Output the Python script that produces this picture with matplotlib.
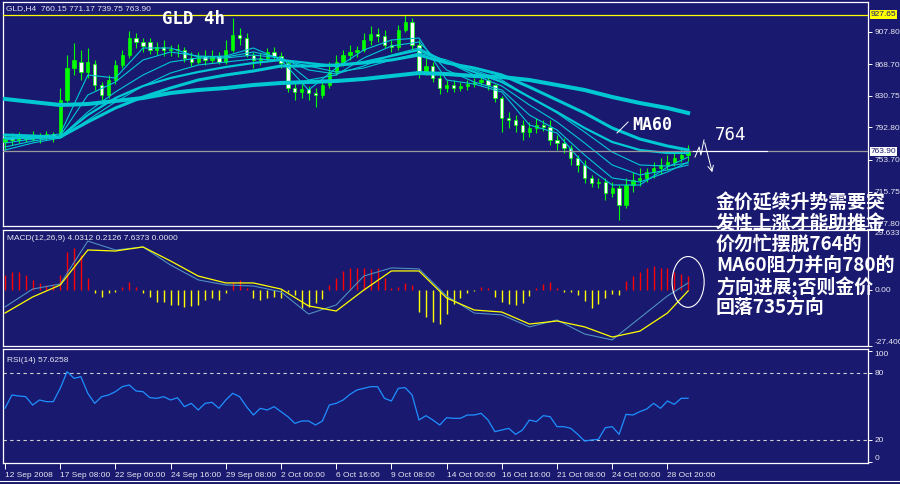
import matplotlib
matplotlib.use('Agg')
import matplotlib.pyplot as plt
import numpy as np
from matplotlib.patches import Ellipse
from matplotlib.lines import Line2D

# ---------------- data ----------------
symbol_info = 'GLD,H4  760.15 771.17 739.75 763.90'
opens = [775.2, 780.0, 777.6, 782.4, 778.8, 783.6, 781.2, 784.8, 781.2, 825.6,
         864.0, 871.2, 859.2, 868.8, 843.6, 831.6, 849.6, 867.6, 879.6, 900.0,
         895.2, 895.2, 885.6, 889.2, 885.6, 886.8, 885.6, 876.0, 871.2, 878.4,
         873.6, 878.4, 871.2, 885.6, 903.6, 900.0, 879.6, 873.6, 876.0, 883.2,
         878.4, 870.0, 840.0, 835.2, 838.8, 834.0, 831.6, 843.6, 859.2, 871.2,
         879.6, 883.2, 885.6, 897.6, 904.8, 902.4, 891.6, 889.2, 909.6, 919.2,
         891.6, 859.2, 866.4, 852.0, 840.0, 843.6, 840.0, 842.4, 844.8, 847.2,
         849.6, 843.6, 828.0, 804.0, 801.6, 795.6, 787.2, 792.0, 795.6, 793.2,
         777.6, 774.0, 768.0, 756.0, 747.6, 732.0, 726.0, 727.2, 714.0, 720.0,
         699.6, 723.6, 729.6, 732.0, 739.2, 744.0, 747.6, 751.2, 756.0, 760.15]
closes = [780.0, 777.6, 782.4, 778.8, 783.6, 781.2, 784.8, 781.2, 825.6, 864.0,
          873.6, 859.2, 871.2, 843.6, 831.6, 849.6, 867.6, 879.6, 900.0, 895.2,
          890.4, 885.6, 889.2, 885.6, 886.8, 885.6, 876.0, 871.2, 878.4, 873.6,
          878.4, 871.2, 885.6, 903.6, 900.0, 879.6, 873.6, 876.0, 883.2, 878.4,
          870.0, 840.0, 835.2, 838.8, 834.0, 831.6, 843.6, 859.2, 871.2, 879.6,
          883.2, 885.6, 897.6, 904.8, 902.4, 891.6, 889.2, 909.6, 919.2, 891.6,
          859.2, 866.4, 852.0, 840.0, 843.6, 840.0, 842.4, 844.8, 847.2, 849.6,
          843.6, 828.0, 804.0, 801.6, 795.6, 787.2, 792.0, 795.6, 793.2, 777.6,
          774.0, 768.0, 756.0, 747.6, 732.0, 726.0, 727.2, 714.0, 720.0, 699.6,
          723.6, 729.6, 732.0, 739.2, 744.0, 747.6, 751.2, 756.0, 759.6, 763.90]
highs = [783.6, 786.0, 787.2, 784.8, 788.4, 786.0, 788.4, 787.2, 840.0, 879.6,
         894.0, 885.6, 888.0, 873.6, 847.2, 855.6, 873.6, 885.6, 908.4, 906.0,
         900.0, 900.0, 895.2, 897.6, 891.6, 892.8, 889.2, 883.2, 883.2, 885.6,
         885.6, 883.2, 897.6, 924.0, 912.0, 906.0, 883.2, 882.0, 888.0, 889.2,
         883.2, 873.6, 847.2, 844.8, 842.4, 840.0, 849.6, 871.2, 879.6, 885.6,
         891.6, 890.4, 906.0, 914.4, 912.0, 909.6, 897.6, 915.6, 927.65, 924.0,
         897.6, 876.0, 871.2, 856.8, 849.6, 849.6, 847.2, 849.6, 852.0, 856.8,
         854.4, 844.8, 830.4, 811.2, 807.6, 801.6, 799.2, 804.0, 801.6, 801.6,
         783.6, 780.0, 771.6, 759.6, 753.6, 735.6, 732.0, 732.0, 727.2, 723.6,
         732.0, 739.2, 744.0, 744.0, 751.2, 756.0, 759.6, 763.2, 768.0, 771.17]
lows = [765.6, 771.6, 774.0, 775.2, 776.4, 774.0, 777.6, 775.2, 780.0, 823.2,
        855.6, 849.6, 852.0, 837.6, 825.6, 828.0, 844.8, 864.0, 876.0, 888.0,
        883.2, 880.8, 879.6, 878.4, 878.4, 877.2, 871.2, 866.4, 868.8, 867.6,
        870.0, 868.8, 868.8, 883.2, 891.6, 877.2, 864.0, 867.6, 871.2, 873.6,
        864.0, 835.2, 825.6, 828.0, 825.6, 817.2, 828.0, 840.0, 855.6, 866.4,
        873.6, 877.2, 883.2, 891.6, 895.2, 888.0, 883.2, 885.6, 907.2, 885.6,
        852.0, 855.6, 847.2, 832.8, 835.2, 835.2, 836.4, 837.6, 841.2, 843.6,
        837.6, 823.2, 787.2, 792.0, 787.2, 777.6, 781.2, 786.0, 788.4, 771.6,
        765.6, 762.0, 747.6, 739.2, 726.0, 721.2, 720.0, 705.6, 709.2, 681.6,
        696.0, 715.2, 722.4, 727.2, 732.0, 736.8, 741.6, 746.4, 751.2, 752.0]

# moving averages, sampled every 8 bars (last point = last bar)
ma_bars = list(range(0, 193, 8)) + [198]
ma_long = [826.8, 823.2, 819.6, 820.8, 824.4, 828.0, 834.0, 837.6, 840.0, 843.6,
           846.0, 847.2, 848.4, 850.8, 854.4, 858.0, 856.8, 854.4, 853.2, 849.6,
           843.6, 837.6, 829.2, 822.0, 816.0, 810.0]
ma60 = [783.6, 782.4, 781.2, 799.2, 816.0, 829.2, 840.0, 849.6, 855.6, 860.4,
        866.4, 866.4, 867.6, 870.0, 873.6, 879.6, 870.0, 864.0, 855.6, 841.2,
        825.6, 810.0, 792.0, 778.8, 770.4, 765.6]
ma_mid = [780.0, 780.0, 781.2, 807.6, 828.0, 842.4, 852.0, 859.2, 865.2, 870.0,
          873.6, 870.0, 866.4, 871.2, 878.4, 885.6, 871.2, 859.2, 847.2, 829.2,
          811.2, 792.0, 775.2, 765.6, 762.0, 762.0]
ma_t4 = [765.6, 774.0, 780.0, 801.6, 823.2, 842.4, 858.0, 867.6, 871.2, 874.8,
         873.6, 866.4, 859.2, 864.0, 873.6, 882.0, 873.6, 861.6, 849.6, 829.2,
         810.0, 787.2, 763.2, 747.6, 746.4, 750.0]
ma_t3 = [769.2, 776.4, 781.2, 811.2, 835.2, 855.6, 871.2, 876.0, 876.0, 879.6,
         876.0, 861.6, 856.8, 866.4, 879.6, 888.0, 871.2, 855.6, 842.4, 819.6,
         799.2, 774.0, 747.6, 735.6, 741.6, 747.6]
ma_t2 = [774.0, 778.8, 782.4, 831.6, 847.2, 873.6, 883.2, 878.4, 877.2, 883.2,
         876.0, 849.6, 855.6, 876.0, 890.4, 895.2, 861.6, 847.2, 837.6, 807.6,
         789.6, 759.6, 732.0, 727.2, 739.2, 751.2]
ma_t1 = [777.6, 781.2, 784.8, 855.6, 852.0, 888.0, 888.0, 877.2, 878.4, 888.0,
         873.6, 837.6, 864.0, 885.6, 897.6, 900.0, 849.6, 844.8, 835.2, 795.6,
         786.0, 747.6, 723.6, 723.6, 745.2, 757.2]

macd_hist = [7.5, 9.1, 9.1, 7.5, 5.1, 3.6, 2.6, 2.9, 7.5, 19.0,
             20.7, 17.4, 6.0, -1.3, -3.1, -1.5, -0.7, 1.8, 4.2, 1.8,
             -1.5, -3.1, -5.6, -5.6, -7.2, -7.2, -8.1, -7.6, -7.2, -4.8,
             -3.9, -4.8, -1.5, 3.9, 5.1, 1.0, -3.9, -4.8, -3.9, -3.1,
             -3.9, -0.7, -2.3, -8.9, -8.1, -6.4, -4.3, 2.6, 5.9, 9.5,
             11.1, 11.1, 11.1, 10.3, 10.8, 5.9, 1.0, 1.8, 3.4, 2.6,
             -10.5, -13.3, -15.7, -16.7, -11.8, -6.9, -3.9, -1.5, -0.3, 1.8,
             1.3, -3.1, -5.9, -6.9, -7.2, -6.4, -2.7, 1.0, 2.9, 3.9,
             1.0, -0.7, -0.7, -2.3, -5.3, -8.6, -6.9, -3.9, -2.0, -2.3,
             4.6, 7.0, 8.9, 11.1, 12.1, 11.1, 10.8, 9.1, 8.0, 7.0]
macd_line = [-8.2, 0.6, 3.1, 24.2, 19.8, 21.3, 12.4, 5.1, 2.6, 2.1,
             -0.8, -11.7, -7.2, 7.0, 11.0, 10.5, -2.8, -11.2, -12.1, -18.0,
             -14.6, -21.5, -24.4, -13.6, -2.8, 3.6]
signal_line = [-11.2, -3.3, 2.6, 19.8, 19.3, 21.3, 14.4, 7.0, 3.6, 3.6,
               0.6, -7.7, -10.2, 0.1, 9.5, 9.5, -3.8, -9.7, -10.7, -16.6,
               -15.1, -18.0, -23.0, -20.1, -11.2, -0.3]
rsi = [48.5, 60.5, 59.6, 59.0, 51.5, 56.0, 54.5, 54.5, 66.5, 81.5,
       75.5, 77.0, 62.0, 53.0, 59.0, 60.5, 63.5, 68.0, 69.5, 64.1,
       63.5, 58.1, 57.5, 59.0, 56.0, 58.1, 50.0, 53.0, 47.0, 53.0,
       53.9, 48.5, 56.0, 62.0, 59.0, 50.0, 42.5, 48.5, 47.0, 50.0,
       45.5, 41.0, 35.0, 37.1, 37.1, 33.5, 37.1, 51.5, 53.0, 56.0,
       61.1, 65.0, 66.5, 68.0, 68.0, 57.5, 55.1, 66.5, 67.1, 60.5,
       38.0, 41.9, 38.0, 33.5, 40.1, 39.5, 39.5, 42.5, 42.5, 44.0,
       38.0, 27.5, 29.0, 30.5, 25.1, 29.0, 38.0, 36.5, 41.9, 41.0,
       32.0, 32.0, 30.5, 25.1, 19.1, 20.0, 20.6, 31.1, 32.0, 25.1,
       43.1, 42.5, 45.5, 47.9, 53.0, 48.5, 55.1, 52.1, 57.5, 57.6]

date_labels = ['12 Sep 2008', '17 Sep 08:00', '22 Sep 00:00', '24 Sep 16:00',
               '29 Sep 08:00', '2 Oct 00:00', '6 Oct 16:00', '9 Oct 08:00',
               '14 Oct 00:00', '16 Oct 16:00', '21 Oct 08:00', '24 Oct 00:00',
               '28 Oct 20:00']
price_ticks = [907.80, 868.70, 830.75, 792.80, 753.70, 715.75, 677.80]
high_line = 927.65
last_price = 763.90
macd_max, macd_min = 29.6337, -27.4001
note_lines = ['金价延续升势需要突', '发性上涨才能助推金', '价勿忙摆脱764的',
              'MA60阻力并向780的', '方向进展;否则金价', '回落735方向']

# ---------------- style ----------------
BG = '#191970'
LIME = '#00ff00'
TEAL = '#00c8d2'
TXT = '#e6e6f0'
plt.rcParams['font.family'] = ['Liberation Sans', 'DejaVu Sans']

W, H = 900, 484
fig = plt.figure(figsize=(W / 100, H / 100), dpi=100)
fig.patch.set_facecolor(BG)


def box(x0, y0, x1, y1):
    return [x0 / W, 1 - y1 / H, (x1 - x0) / W, (y1 - y0) / H]


ax = fig.add_axes(box(3, 2, 868, 226))
axm = fig.add_axes(box(3, 230, 868, 346))
axr = fig.add_axes(box(3, 349, 868, 463))

XLIM = (-0.58, 250.14)
for a in (ax, axm, axr):
    a.set_facecolor(BG)
    a.set_xlim(*XLIM)
    for s in a.spines.values():
        s.set_color('white')
        s.set_linewidth(0.9)
    a.yaxis.tick_right()
    a.tick_params(axis='y', colors='white', labelcolor=TXT, labelsize=6,
                  length=3, width=0.7, pad=1.5, direction='out')
for a in (ax, axm):
    a.set_xticks([])

# ---------------- main price panel ----------------
xb = np.arange(len(closes)) * 2
o = np.array(opens); c = np.array(closes)
h = np.array(highs); l = np.array(lows)
up = c >= o
ax.vlines(xb, l, h, color=LIME, lw=0.8, zorder=2)
ax.bar(xb, np.maximum(np.abs(c - o), 0.6), bottom=np.minimum(o, c), width=0.95,
       color=np.where(up, LIME, 'white'), edgecolor=LIME, linewidth=0.5, zorder=3)

for series, lw in [(ma_t1, 0.8), (ma_t2, 0.8), (ma_t3, 0.8), (ma_t4, 0.8),
                   (ma_mid, 1.6), (ma60, 2.2), (ma_long, 2.9)]:
    ax.plot(ma_bars, series, color=TEAL, lw=lw, zorder=4, solid_joinstyle='round')

ax.axhline(high_line, color='#ffff00', lw=0.9, zorder=5)
ax.axhline(last_price, color='#9a9a9a', lw=0.9, zorder=5)
ax.set_ylim(945.6 - 1.2 * 226, 945.6 - 1.2 * 2)
ax.set_yticks(price_ticks)
ax.set_yticklabels([f'{v:.2f}' for v in price_ticks])
ytr = ax.get_yaxis_transform()
ax.text(1.003, high_line, f'{high_line:.2f}', transform=ytr, ha='left', va='center',
        fontsize=6, color=BG, bbox=dict(boxstyle='square,pad=0.12', fc='#ffff00', ec='none'))
ax.text(1.003, last_price, f'{last_price:.2f}', transform=ytr, ha='left', va='center',
        fontsize=6, color=BG, bbox=dict(boxstyle='square,pad=0.12', fc='white', ec='none'))

# annotations
ax.plot([177.4, 180.6], [786.0, 799.2], color='white', lw=0.7, zorder=6)
ax.text(181.7, 795.6, 'MA60', family='DejaVu Sans Mono', weight='bold', fontsize=12,
        color='white', va='center', ha='left', zorder=6)
ax.text(205.8, 783.0, '764', family='DejaVu Sans Mono', fontsize=12.5,
        color='white', va='center', ha='left', zorder=6)
ax.plot([199.4, 220.9], [764.6, 764.6], color='white', lw=0.8, zorder=6)
ax.plot([200.0, 201.2, 201.7, 202.6], [757.2, 769.2, 759.6, 777.6], color='white', lw=0.7, zorder=6)
ax.annotate('', xy=(205.2, 735.6), xytext=(202.6, 777.6),
            arrowprops=dict(arrowstyle='->', color='white', lw=0.7), zorder=6)

# ---------------- MACD panel ----------------
hist = np.array(macd_hist)
axm.vlines(xb, 0, hist, colors=np.where(hist >= 0, '#ff0000', '#ffff00'), lw=1.0, zorder=2)
axm.plot(ma_bars, macd_line, color='#4f8fc0', lw=0.8, zorder=3)
axm.plot(ma_bars, signal_line, color='#ffff00', lw=0.9, zorder=3)
axm.set_ylim(macd_min, macd_max)
axm.set_yticks([macd_max, 0, macd_min])
axm.set_yticklabels([f'{macd_max:.4f}', '0.00', f'{macd_min:.4f}'])
for lbl, va in zip(axm.get_yticklabels(), ['top', 'center', 'bottom']):
    lbl.set_verticalalignment(va)
axm.add_patch(Ellipse((198, 4.1), 9.3, 25, fill=False, ec='white', lw=0.8, zorder=5))

# ---------------- RSI panel ----------------
axr.plot(xb, rsi, color='#1e90ff', lw=0.9, zorder=3)
for lev in (80, 20):
    axr.axhline(lev, color='#d0d0d0', lw=0.8, ls=(0, (3, 3)), zorder=2)
axr.set_ylim(-0.7, 101.9)
axr.set_yticks([100, 80, 20, 0])
axr.set_yticklabels(['100', '80', '20', '0'])
for lbl, va in zip(axr.get_yticklabels(), ['top', 'center', 'center', 'bottom']):
    lbl.set_verticalalignment(va)
axr.set_xticks(np.arange(len(date_labels)) * 16)
axr.set_xticklabels(date_labels)
axr.tick_params(axis='x', colors='white', labelcolor=TXT, labelsize=6, length=4,
                width=0.7, pad=2.5)
for lbl in axr.get_xticklabels():
    lbl.set_horizontalalignment('left')

# ---------------- texts ----------------
fig.text(6 / W, 1 - 9 / H, symbol_info, fontsize=6, color=TXT, va='center', ha='left')
fig.text(7 / W, 1 - 238 / H, 'MACD(12,26,9) 4.0312 0.2126 7.6373 0.0000', fontsize=6,
         color=TXT, va='center', ha='left')
fig.text(7 / W, 1 - 360 / H, 'RSI(14) 57.6258', fontsize=6, color=TXT, va='center', ha='left')
fig.text(162 / W, 1 - 19 / H, 'GLD 4h', family='DejaVu Sans Mono', weight='bold',
         fontsize=12.5, color='white', va='center', ha='left')
for k, line in enumerate(note_lines):
    fig.text(716 / W, 1 - (202.5 + 21 * k) / H, line, family=['Noto Sans CJK SC', 'DejaVu Sans'],
             weight='bold', fontsize=13.6, color='white', va='center', ha='left', zorder=10)
fig.add_artist(Line2D([0, 1], [1 - 481 / H] * 2, color='white', lw=0.8))

fig.savefig('out.png', dpi=100, facecolor=BG)
